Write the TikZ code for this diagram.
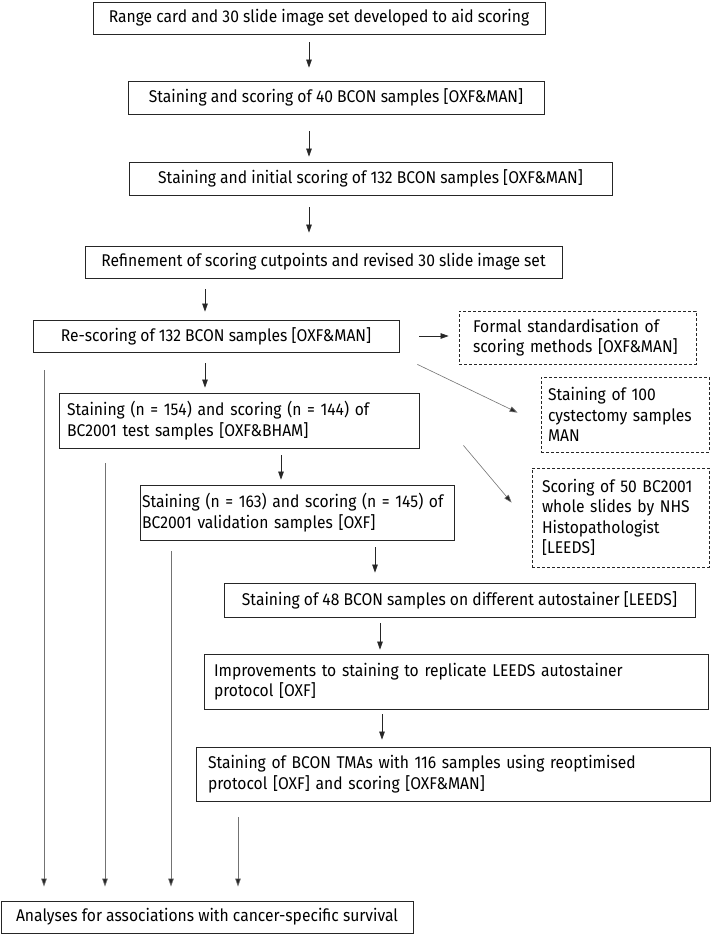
\documentclass[tikz,border=0pt]{standalone}
\usepackage{fontspec}
\setmainfont[FakeStretch=0.92]{Fira Sans}
\usetikzlibrary{arrows.meta}
\begin{document}
\begin{tikzpicture}[x=1pt,y=-1pt,
  font=\fontsize{17}{20.5}\selectfont,
  box/.style={draw=black!85, line width=0.8pt, inner sep=0pt, rectangle},
  dbox/.style={box, dashed, dash pattern=on 3pt off 2pt},
  arr/.style={draw=black!85, line width=0.6pt, -{Triangle[length=8pt,width=5.5pt]}},
  garr/.style={draw=black!55, line width=0.6pt, -{Triangle[length=8pt,width=5.5pt,fill=black!85]}}]
\useasboundingbox (0,0) rectangle (711,935);
\fill[white] (0,0) rectangle (711,935);

% boxes
\node[box, minimum width=452pt, minimum height=32pt] (b1) at (319,18) {Range card and 30 slide image set developed to aid scoring};
\node[box, minimum width=416pt, minimum height=33pt] (b2) at (336,97.5) {Staining and scoring of 40 BCON samples [OXF\&MAN]};
\node[box, minimum width=483pt, minimum height=33pt] (b3) at (370.5,178.5) {Staining and initial scoring of 132 BCON samples [OXF\&MAN]};
\node[box, minimum width=477pt, minimum height=32pt] (b4) at (323.5,262) {Refinement of scoring cutpoints and revised 30 slide image set};
\node[box, minimum width=366pt, minimum height=32pt] (b5) at (216,336) {Re-scoring of 132 BCON samples [OXF\&MAN]};
\node[dbox, minimum width=237pt, minimum height=53pt, text width=209pt, align=left] (f1) at (577.5,337.5) {Formal standardisation of\\ scoring methods [OXF\&MAN]};
\node[dbox, minimum width=168pt, minimum height=75pt, text width=154pt, align=left] (f2) at (625,414.5) {Staining of 100\\ cystectomy samples\\ MAN};
\node[box, minimum width=360pt, minimum height=55pt, text width=344pt, align=left] (b6) at (239,420.5) {Staining (n = 154) and scoring (n = 144) of\\ BC2001 test samples [OXF\&BHAM]};
\node[dbox, minimum width=177pt, minimum height=99pt, text width=157pt, align=left] (f3) at (620.5,517.5) {Scoring of 50 BC2001\\ whole slides by NHS\\ Histopathologist\\{}[LEEDS]};
\node[box, minimum width=314pt, minimum height=55pt, text width=310pt, align=left] (b7) at (297,512.5) {Staining (n = 163) and scoring (n = 145) of\\ BC2001 validation samples [OXF]};
\node[box, minimum width=471pt, minimum height=34pt] (b8) at (459.5,600) {Staining of 48 BCON samples on different autostainer [LEEDS]};
\node[box, minimum width=504pt, minimum height=55pt, text width=484pt, align=left] (b9) at (456,681.5) {Improvements to staining to replicate LEEDS autostainer\\ protocol [OXF]};
\node[box, minimum width=514pt, minimum height=54pt, text width=490pt, align=left] (b10) at (453,774) {Staining of BCON TMAs with 116 samples using reoptimised\\ protocol [OXF] and scoring [OXF\&MAN]};
\node[box, minimum width=412pt, minimum height=32pt] (b11) at (207,917) {Analyses for associations with cancer-specific survival};

% column coordinates
\coordinate (x309) at (309,0);
\coordinate (x205) at (205,0);
\coordinate (x281) at (281,0);
\coordinate (x375) at (375,0);
\coordinate (x380) at (380,0);
\coordinate (x382) at (382,0);

% main chain
\draw[arr, shorten <=8pt, shorten >=13pt] (b1.south -| x309) -- (b2.north -| x309);
\draw[arr, shorten <=17pt, shorten >=5pt] (b2.south -| x309) -- (b3.north -| x309);
\draw[arr, shorten <=12pt, shorten >=13pt] (b3.south -| x309) -- (b4.north -| x309);
\draw[arr, shorten <=11pt, shorten >=8pt] (b4.south -| x205) -- (b5.north -| x205);
\draw[arr, shorten <=11pt, shorten >=5pt] (b5.south -| x205) -- (b6.north -| x205);
\draw[arr, shorten <=7pt, shorten >=5pt] (b6.south -| x281) -- (b7.north -| x281);
\draw[arr, shorten <=7pt, shorten >=10pt] (b7.south -| x375) -- (b8.north -| x375);
\draw[arr, shorten <=6pt, shorten >=4pt] (b8.south -| x380) -- (b9.north -| x380);
\draw[arr, shorten <=5pt, shorten >=7pt] (b9.south -| x382) -- (b10.north -| x382);

% side branches
\draw[arr, shorten <=20pt, shorten >=10pt] (b5.east) -- (b5.east -| f1.west);
\draw[garr] ([shift={(18,12)}]b5.south east) -- ([shift={(-23,36)}]f2.north west);
\draw[garr] ([shift={(44,-3)}]b6.south east) -- ([shift={(-20,35)}]f3.north west);

% long lines to analyses
\coordinate (s1) at (44,370);
\coordinate (s2) at (105,463);
\coordinate (s3) at (171,551);
\coordinate (s4) at (238,817);
\foreach \s in {s1,s2,s3,s4}
  \draw[garr, shorten >=14pt] (\s) -- (\s |- b11.north);
\end{tikzpicture}
\end{document}
